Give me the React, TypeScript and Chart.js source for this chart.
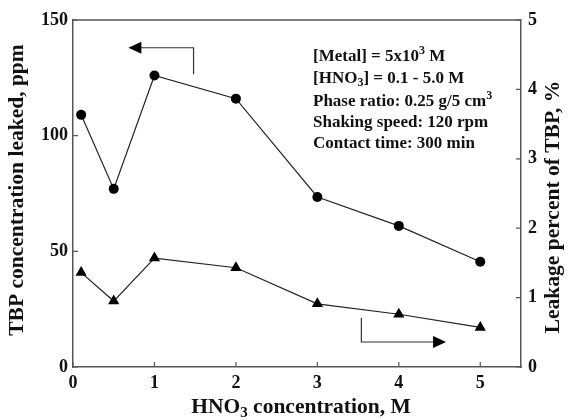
import React, { useEffect, useRef } from "react";
import { Chart, registerables } from "chart.js";

Chart.register(...registerables);

// HNO3 concentration (M)
const hno3 = [0.1, 0.5, 1, 2, 3, 4, 5];
// TBP leaked (ppm), left axis
const tbpPpm = [109, 77, 126, 116, 73.5, 61, 45.5];
// Leakage percent of TBP (%), right axis
const leakPct = [1.36, 0.95, 1.57, 1.43, 0.91, 0.76, 0.57];

const xTicks = [0, 1, 2, 3, 4, 5];
const yTicks = [0, 50, 100, 150];
const y1Ticks = [0, 1, 2, 3, 4, 5];

type Seg = { t: string; sub?: boolean; sup?: boolean };

const conditions: Seg[][] = [
  [{ t: "[Metal] = 5x10" }, { t: "3", sup: true }, { t: " M" }],
  [{ t: "[HNO" }, { t: "3", sub: true }, { t: "] = 0.1 - 5.0 M" }],
  [{ t: "Phase ratio: 0.25 g/5 cm" }, { t: "3", sup: true }],
  [{ t: "Shaking speed: 120 rpm" }],
  [{ t: "Contact time: 300 min" }],
];

const FAMILY = '"Liberation Serif", "Times New Roman", serif';
const INK = "#111";
const AXIS = "#555";

function richWidth(ctx: CanvasRenderingContext2D, segs: Seg[], size: number) {
  let w = 0;
  for (const s of segs) {
    ctx.font = `bold ${s.sub || s.sup ? Math.round(size * 0.68) : size}px ${FAMILY}`;
    w += ctx.measureText(s.t).width;
  }
  return w;
}

function drawRich(ctx: CanvasRenderingContext2D, segs: Seg[], x: number, y: number, size: number) {
  let cx = x;
  ctx.textBaseline = "middle";
  ctx.textAlign = "left";
  for (const s of segs) {
    const small = s.sub || s.sup;
    ctx.font = `bold ${small ? Math.round(size * 0.68) : size}px ${FAMILY}`;
    const dy = s.sub ? size * 0.28 : s.sup ? -size * 0.35 : 0;
    ctx.fillText(s.t, cx, y + dy);
    cx += ctx.measureText(s.t).width;
  }
}

function drawRichCentered(ctx: CanvasRenderingContext2D, segs: Seg[], cx: number, cy: number, size: number, rot: number) {
  ctx.save();
  ctx.translate(cx, cy);
  ctx.rotate(rot);
  const w = richWidth(ctx, segs, size);
  drawRich(ctx, segs, -w / 2, 0, size);
  ctx.restore();
}

function arrowHead(ctx: CanvasRenderingContext2D, tipX: number, tipY: number, dir: number) {
  const len = 13;
  const half = 6;
  ctx.beginPath();
  ctx.moveTo(tipX, tipY);
  ctx.lineTo(tipX - dir * len, tipY - half);
  ctx.lineTo(tipX - dir * len, tipY + half);
  ctx.closePath();
  ctx.fill();
}

const decorations = {
  id: "decorations",
  afterDraw(chart: any) {
    const ctx: CanvasRenderingContext2D = chart.ctx;
    const { left, right, top, bottom } = chart.chartArea;
    const sx = chart.scales.x;
    const sy = chart.scales.y;
    const sy1 = chart.scales.y1;
    ctx.save();

    // top frame line
    ctx.strokeStyle = AXIS;
    ctx.lineWidth = 1.5;
    ctx.beginPath();
    ctx.moveTo(left, top);
    ctx.lineTo(right, top);
    ctx.stroke();

    // inward tick marks
    const tl = 5;
    ctx.lineWidth = 1.2;
    ctx.beginPath();
    for (const v of xTicks) {
      const px = sx.getPixelForValue(v);
      ctx.moveTo(px, bottom);
      ctx.lineTo(px, bottom - tl);
    }
    for (const v of yTicks) {
      const py = sy.getPixelForValue(v);
      ctx.moveTo(left, py);
      ctx.lineTo(left + tl, py);
    }
    for (const v of y1Ticks) {
      const py = sy1.getPixelForValue(v);
      ctx.moveTo(right, py);
      ctx.lineTo(right - tl, py);
    }
    ctx.stroke();

    // axis titles
    ctx.fillStyle = INK;
    drawRichCentered(ctx, [{ t: "TBP concentration leaked, ppm" }], 17, 190, 21.5, -Math.PI / 2);
    drawRichCentered(ctx, [{ t: "Leakage percent of TBP, %" }], 553, 207, 21.5, -Math.PI / 2);
    drawRichCentered(
      ctx,
      [{ t: "HNO" }, { t: "3", sub: true }, { t: " concentration, M" }],
      301,
      407,
      21.5,
      0
    );

    // experimental conditions
    const lineY = [57, 78.6, 101.6, 122.6, 144];
    conditions.forEach((segs, i) => drawRich(ctx, segs, 313, lineY[i], 17));

    // arrows pointing to each series' axis
    ctx.strokeStyle = "#333";
    ctx.fillStyle = "#000";
    ctx.lineWidth = 1.2;
    const ax1 = sx.getPixelForValue(1.48);
    const ay1a = sy.getPixelForValue(126.5);
    const ay1b = sy.getPixelForValue(138);
    const tip1 = sx.getPixelForValue(0.68);
    ctx.beginPath();
    ctx.moveTo(ax1, ay1a);
    ctx.lineTo(ax1, ay1b);
    ctx.lineTo(tip1 + 10, ay1b);
    ctx.stroke();
    arrowHead(ctx, tip1, ay1b, -1);

    const ax2 = sx.getPixelForValue(3.54);
    const ay2a = sy1.getPixelForValue(0.71);
    const ay2b = sy1.getPixelForValue(0.36);
    const tip2 = sx.getPixelForValue(4.58);
    ctx.beginPath();
    ctx.moveTo(ax2, ay2a);
    ctx.lineTo(ax2, ay2b);
    ctx.lineTo(tip2 - 10, ay2b);
    ctx.stroke();
    arrowHead(ctx, tip2, ay2b, 1);

    ctx.restore();
  },
};

export default function App() {
  const ref = useRef<HTMLCanvasElement | null>(null);

  useEffect(() => {
    if (!ref.current) return;
    const tickFont = { family: FAMILY, size: 18, weight: "bold" as const };
    const chart = new Chart(ref.current, {
      type: "line",
      data: {
        datasets: [
          {
            label: "TBP leaked (ppm)",
            data: hno3.map((x, i) => ({ x, y: tbpPpm[i] })),
            yAxisID: "y",
            borderColor: "#222",
            borderWidth: 1.2,
            pointStyle: "circle",
            pointRadius: 5,
            pointBackgroundColor: "#000",
            pointBorderColor: "#000",
            pointBorderWidth: 0,
          },
          {
            label: "Leakage (%)",
            data: hno3.map((x, i) => ({ x, y: leakPct[i] })),
            yAxisID: "y1",
            borderColor: "#222",
            borderWidth: 1.2,
            pointStyle: "triangle",
            pointRadius: 6.5,
            pointBackgroundColor: "#000",
            pointBorderColor: "#000",
            pointBorderWidth: 0,
          },
        ],
      },
      options: {
        animation: false,
        responsive: true,
        maintainAspectRatio: false,
        layout: { padding: { top: 20, left: 0, right: 0, bottom: 0 } },
        plugins: { legend: { display: false }, tooltip: { enabled: false } },
        scales: {
          x: {
            type: "linear",
            min: 0,
            max: 5.5,
            grid: { display: false, drawTicks: false },
            border: { display: true, color: AXIS, width: 1.5 },
            ticks: { stepSize: 1, includeBounds: false, padding: 6, color: INK, font: tickFont },
            afterFit: (s: any) => {
              s.height = 53;
            },
          },
          y: {
            position: "left",
            min: 0,
            max: 150,
            grid: { display: false, drawTicks: false },
            border: { display: true, color: AXIS, width: 1.5 },
            ticks: { stepSize: 50, padding: 5, color: INK, font: tickFont },
            afterFit: (s: any) => {
              s.width = 73;
            },
          },
          y1: {
            position: "right",
            min: 0,
            max: 5,
            grid: { display: false, drawTicks: false },
            border: { display: true, color: AXIS, width: 1.5 },
            ticks: { stepSize: 1, padding: 7, color: INK, font: tickFont },
            afterFit: (s: any) => {
              s.width = 49;
            },
          },
        },
      },
      plugins: [decorations],
    });
    return () => chart.destroy();
  }, []);

  return (
    <div style={{ position: "absolute", left: 0, top: 0, width: 570, height: 420, background: "#fff" }}>
      <canvas ref={ref} />
    </div>
  );
}
